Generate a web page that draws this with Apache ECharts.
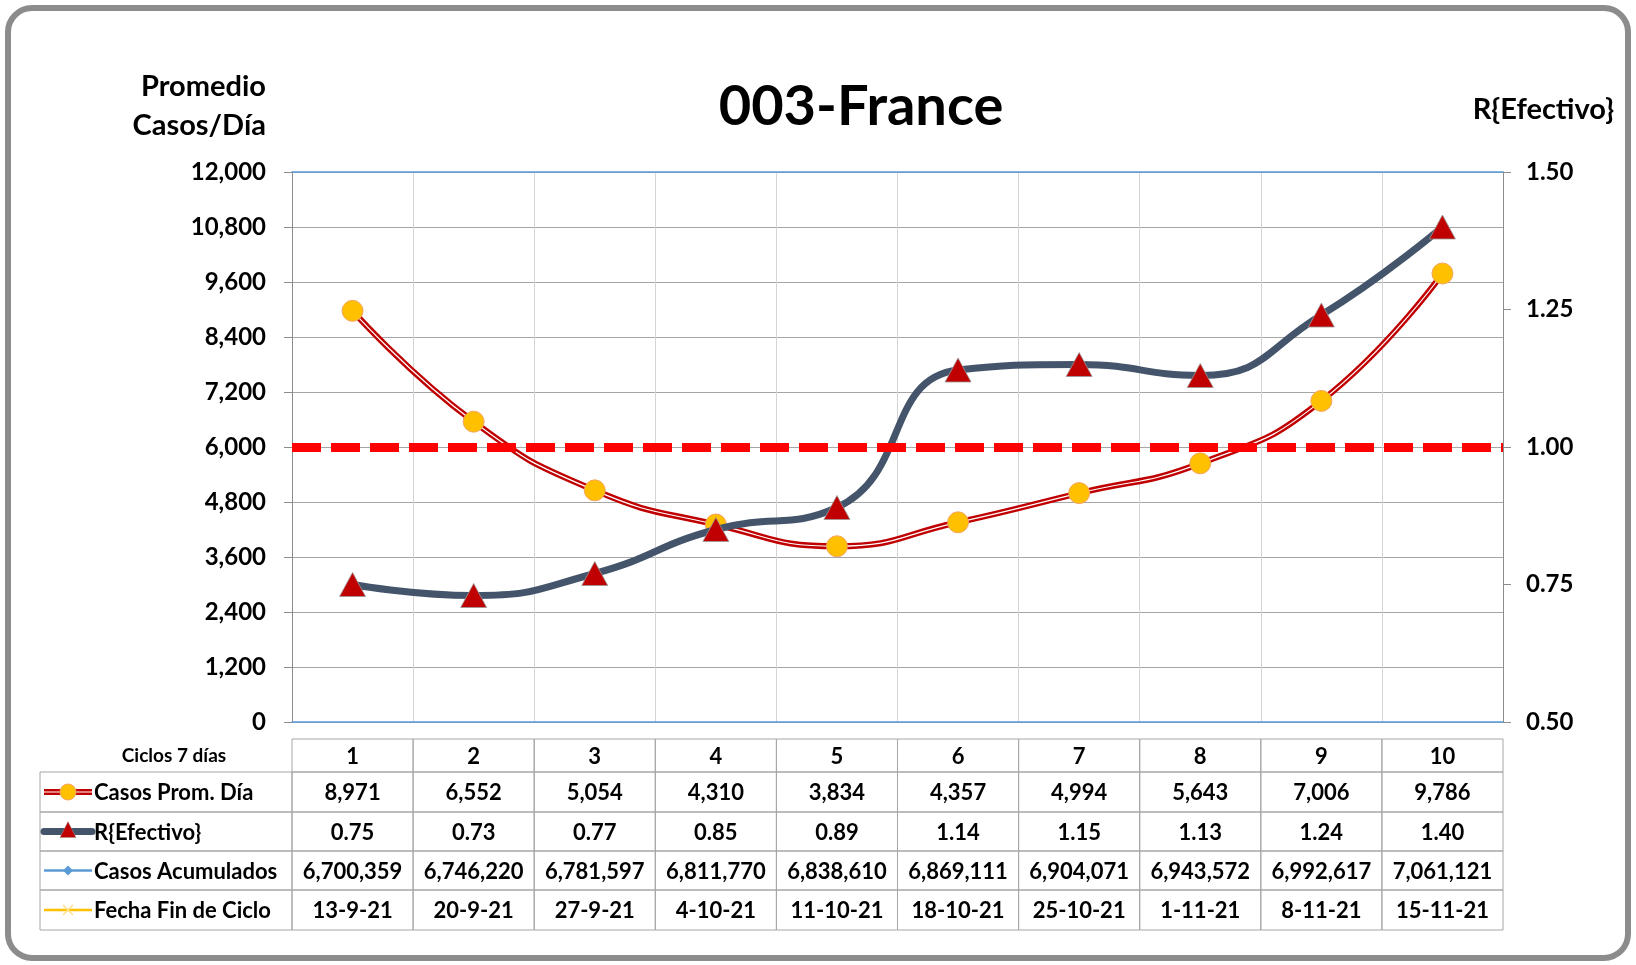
<!DOCTYPE html>
<html>
<head>
<meta charset="utf-8">
<script src="https://cdn.jsdelivr.net/npm/echarts@6/dist/echarts.min.js"></script>
<style>
  html, body { margin: 0; padding: 0; background: #fff; }
  #chart { width: 1636px; height: 965px; }
</style>
</head>
<body>
<div id="chart"></div>
<script>
const cycles = ['1', '2', '3', '4', '5', '6', '7', '8', '9', '10'];
const casosProm = [8971, 6552, 5054, 4310, 3834, 4357, 4994, 5643, 7006, 9786];
const rEfectivo = [0.75, 0.73, 0.77, 0.85, 0.89, 1.14, 1.15, 1.13, 1.24, 1.40];
const casosAcum = [6700359, 6746220, 6781597, 6811770, 6838610, 6869111, 6904071, 6943572, 6992617, 7061121];
const fechaFin = ['13-9-21', '20-9-21', '27-9-21', '4-10-21', '11-10-21', '18-10-21', '25-10-21', '1-11-21', '8-11-21', '15-11-21'];
const rowNames = ['Casos Prom. Día', 'R{Efectivo}', 'Casos Acumulados', 'Fecha Fin de Ciclo'];
const refLine = 1.0;

const FONT = 'Lato, "Open Sans", sans-serif';
const fmt = n => n.toLocaleString('en-US');

// geometria del area de trazado y de la tabla
const plotL = 292, plotR = 1503, plotT = 172, plotB = 722;
const colW = (plotR - plotL) / cycles.length;
const rowY = [739, 772, 812, 851, 890, 930];
const tabL = 40;

var chart = echarts.init(document.getElementById('chart'), null, { renderer: 'canvas' });

function buildTable() {
    let g = [];
    let border = { stroke: '#a6a6a6', lineWidth: 1, fill: 'none' };
    let txt = (x, y, s, size, align) => ({
        type: 'text', x: x, y: y,
        style: { text: s, font: 'bold ' + size + 'px ' + FONT, fill: '#000', align: align || 'center', verticalAlign: 'middle' }
    });

    // fila de cabecera
    g.push(txt(174, (rowY[0] + rowY[1]) / 2, 'Ciclos 7 días', 19));
    for (let i = 0; i < cycles.length; i++) {
        g.push({ type: 'rect', shape: { x: plotL + i * colW, y: rowY[0], width: colW, height: rowY[1] - rowY[0] }, style: border });
        g.push(txt(plotL + (i + 0.5) * colW, (rowY[0] + rowY[1]) / 2 + 1, cycles[i], 22));
    }

    let rows = [
        casosProm.map(fmt),
        rEfectivo.map(v => v.toFixed(2)),
        casosAcum.map(fmt),
        fechaFin
    ];
    for (let r = 0; r < rows.length; r++) {
        let y0 = rowY[r + 1], y1 = rowY[r + 2], cy = (y0 + y1) / 2;
        g.push({ type: 'rect', shape: { x: tabL, y: y0, width: plotL - tabL, height: y1 - y0 }, style: border });
        g.push(txt(94, cy + 1, rowNames[r], 22, 'left'));
        for (let i = 0; i < cycles.length; i++) {
            g.push({ type: 'rect', shape: { x: plotL + i * colW, y: y0, width: colW, height: y1 - y0 }, style: border });
            g.push(txt(plotL + (i + 0.5) * colW, cy + 1, rows[r][i], 22));
        }
    }

    // iconos de leyenda
    let iy = (rowY[1] + rowY[2]) / 2;
    g.push({ type: 'line', shape: { x1: 44, y1: iy, x2: 92, y2: iy }, style: { stroke: '#c00000', lineWidth: 6 } });
    g.push({ type: 'line', shape: { x1: 44, y1: iy, x2: 92, y2: iy }, style: { stroke: '#fff', lineWidth: 1.2 } });
    g.push({ type: 'circle', shape: { cx: 68, cy: iy, r: 8 }, style: { fill: '#ffc000', stroke: '#f4a460', lineWidth: 1 } });

    iy = (rowY[2] + rowY[3]) / 2;
    g.push({ type: 'line', shape: { x1: 44, y1: iy, x2: 92, y2: iy }, style: { stroke: '#44546a', lineWidth: 7, lineCap: 'round' } });
    g.push({ type: 'polygon', shape: { points: [[68, iy - 10], [60, iy + 6], [76, iy + 6]] }, style: { fill: '#c00000', stroke: '#999', lineWidth: 0.5 } });

    iy = (rowY[3] + rowY[4]) / 2;
    g.push({ type: 'line', shape: { x1: 44, y1: iy, x2: 92, y2: iy }, style: { stroke: '#5b9bd5', lineWidth: 2.5 } });
    g.push({ type: 'polygon', shape: { points: [[68, iy - 5], [73, iy], [68, iy + 5], [63, iy]] }, style: { fill: '#5b9bd5' } });

    iy = (rowY[4] + rowY[5]) / 2;
    g.push({ type: 'line', shape: { x1: 44, y1: iy, x2: 92, y2: iy }, style: { stroke: '#ffc000', lineWidth: 2.5 } });
    g.push({ type: 'line', shape: { x1: 63, y1: iy - 5, x2: 73, y2: iy + 5 }, style: { stroke: '#ffe08a', lineWidth: 1.5 } });
    g.push({ type: 'line', shape: { x1: 63, y1: iy + 5, x2: 73, y2: iy - 5 }, style: { stroke: '#ffe08a', lineWidth: 1.5 } });

    return g;
}

let graphics = [
    // marco redondeado
    { type: 'rect', z: 0, shape: { x: 8, y: 8, width: 1620, height: 950, r: 24 }, style: { fill: '#fff', stroke: '#8c8c8c', lineWidth: 6 } },
    { type: 'text', x: 861, y: 107, style: { text: '003-France', font: 'bold 56px ' + FONT, fill: '#000', align: 'center', verticalAlign: 'middle' } },
    { type: 'text', x: 266, y: 87, style: { text: 'Promedio', font: 'bold 29px ' + FONT, fill: '#000', align: 'right', verticalAlign: 'middle' } },
    { type: 'text', x: 266, y: 126, style: { text: 'Casos/Día', font: 'bold 29px ' + FONT, fill: '#000', align: 'right', verticalAlign: 'middle' } },
    { type: 'text', x: 1614, y: 110, style: { text: 'R{Efectivo}', font: 'bold 29px ' + FONT, fill: '#000', align: 'right', verticalAlign: 'middle' } }
].concat(buildTable());

let option = {
    animation: false,
    backgroundColor: '#fff',
    grid: { left: plotL, right: 1636 - plotR, top: plotT, bottom: 965 - plotB },
    graphic: graphics,
    xAxis: [
        {
            type: 'category', data: cycles, position: 'bottom',
            axisLine: { lineStyle: { color: '#5b9bd5', width: 1.5 } },
            axisTick: { show: false },
            axisLabel: { show: false },
            splitLine: { show: true, lineStyle: { color: '#d4d4d4', width: 1 } }
        },
        {
            type: 'category', data: cycles, position: 'top',
            axisLine: { lineStyle: { color: '#5b9bd5', width: 1.5 } },
            axisTick: { show: false },
            axisLabel: { show: false }
        }
    ],
    yAxis: [
        {
            type: 'value', min: 0, max: 12000, interval: 1200, position: 'left',
            axisLine: { show: true, lineStyle: { color: '#8c8c8c' } },
            axisTick: { show: true, length: 8, lineStyle: { color: '#8c8c8c' } },
            axisLabel: { margin: 26, color: '#000', fontFamily: FONT, fontWeight: 'bold', fontSize: 24, formatter: v => fmt(v) },
            splitLine: { lineStyle: { color: '#a6a6a6', width: 1.2 } }
        },
        {
            type: 'value', min: 0.5, max: 1.5, interval: 0.25, position: 'right',
            axisLine: { show: true, lineStyle: { color: '#8c8c8c' } },
            axisTick: { show: true, length: 8, lineStyle: { color: '#8c8c8c' } },
            axisLabel: { margin: 23, color: '#000', fontFamily: FONT, fontWeight: 'bold', fontSize: 24, formatter: v => v.toFixed(2) },
            splitLine: { show: false }
        }
    ],
    series: [
        {
            // linea de referencia R = 1
            name: 'ref', type: 'line', yAxisIndex: 1, data: [], z: 1,
            markLine: {
                silent: true, symbol: 'none', label: { show: false },
                lineStyle: { color: '#ff0000', width: 9, type: [29, 10] },
                data: [{ yAxis: refLine }]
            }
        },
        {
            name: 'Casos Prom. Día', type: 'line', yAxisIndex: 0, data: casosProm, smooth: 0.5,
            showSymbol: false, z: 2,
            lineStyle: { color: '#c00000', width: 6 }
        },
        {
            name: 'Casos Prom. Día (interior)', type: 'line', yAxisIndex: 0, data: casosProm, smooth: 0.5,
            symbol: 'circle', symbolSize: 21, z: 3,
            lineStyle: { color: '#ffffff', width: 1.2 },
            itemStyle: { color: '#ffc000', borderColor: '#f4a460', borderWidth: 1 }
        },
        {
            name: 'R{Efectivo}', type: 'line', yAxisIndex: 1, data: rEfectivo, smooth: 0.5,
            symbol: 'triangle', symbolSize: [26, 24], z: 4,
            lineStyle: { color: '#44546a', width: 7 },
            itemStyle: { color: '#c00000', borderColor: '#999', borderWidth: 0.8 }
        }
    ]
};

chart.setOption(option);
</script>
</body>
</html>
